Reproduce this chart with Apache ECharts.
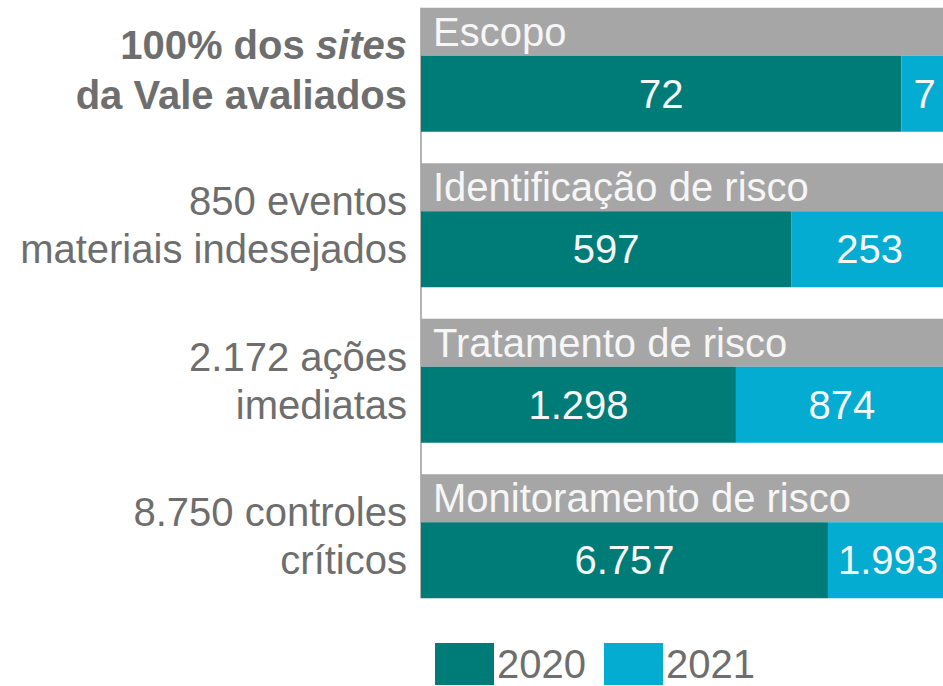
<!DOCTYPE html>
<html>
<head>
<meta charset="utf-8">
<script src="https://cdn.jsdelivr.net/npm/echarts@6/dist/echarts.min.js"></script>
<style>
  html, body { margin: 0; padding: 0; background: #fff; }
  #chart { width: 943px; height: 686px; }
</style>
</head>
<body>
<div id="chart"></div>
<script>
// data
var rowLabels = [
  '100% dos sites\nda Vale avaliados',
  '850 eventos\nmateriais indesejados',
  '2.172 ações\nimediatas',
  '8.750 controles\ncríticos'
];
var stages = ['Escopo', 'Identificação de risco', 'Tratamento de risco', 'Monitoramento de risco'];
var values2020 = [72, 597, 1298, 6757];
var values2021 = [7, 253, 874, 1993];
var seriesNames = ['2020', '2021'];

(function() {
  var teal = '#007c78';
  var cyan = '#03acd0';
  var gray = '#a6a6a6';
  var ink = '#6e6e6e';
  var font = "'Liberation Sans', Arial, sans-serif";

  var headerH = 48, barH = 76;

  var totals = values2020.map(function(v, i) { return v + values2021[i]; });
  var pct2020 = values2020.map(function(v, i) { return v / totals[i] * 100; });
  var pct2021 = values2021.map(function(v, i) { return v / totals[i] * 100; });
  var full = totals.map(function() { return 100; });

  function fmt(n) {
    return String(n).replace(/\B(?=(\d{3})+(?!\d))/g, '.');
  }

  var chart = echarts.init(document.getElementById('chart'), null, { renderer: 'svg' });
  chart.setOption({
    animation: false,
    textStyle: { fontFamily: font },
    legend: {
      left: 435,
      top: 643,
      padding: 0,
      itemWidth: 59,
      itemHeight: 42,
      itemGap: 18,
      icon: 'rect',
      data: seriesNames,
      textStyle: { color: ink, fontSize: 40, lineHeight: 42, fontFamily: font, padding: [0, 0, 0, -2] }
    },
    grid: { left: 421, right: -5, top: -8, bottom: 72, outerBoundsMode: 'none', containLabel: false },
    xAxis: {
      type: 'value',
      min: 0,
      max: 100,
      show: false
    },
    yAxis: {
      type: 'category',
      inverse: true,
      data: rowLabels,
      axisLine: { show: false },
      axisTick: { show: false },
      axisLabel: {
        margin: 14,
        color: ink,
        fontSize: 40,
        lineHeight: 48,
        fontFamily: font,
        align: 'right',
        formatter: function(value, index) {
          if (index !== 0) return value;
          return value.split('\n').map(function(line) {
            return '{b|' + line.replace('sites', '}{bi|sites}{b|') + '}';
          }).join('\n');
        },
        rich: {
          b: { fontWeight: 'bold', fontSize: 40, lineHeight: 50, color: ink, fontFamily: font },
          bi: { fontWeight: 'bold', fontStyle: 'italic', fontSize: 40, lineHeight: 50, color: ink, fontFamily: font }
        }
      }
    },
    series: [
      {
        name: 'header',
        type: 'bar',
        data: full,
        barWidth: headerH,
        barGap: '0%',
        itemStyle: { color: gray },
        label: {
          show: true,
          position: 'insideLeft',
          distance: 12,
          color: '#f6f6f6',
          fontSize: 40,
          fontFamily: font,
          formatter: function(p) { return stages[p.dataIndex]; }
        },
        silent: true
      },
      {
        name: seriesNames[0],
        type: 'bar',
        stack: 'total',
        data: pct2020,
        barWidth: barH,
        barGap: '0%',
        itemStyle: { color: teal },
        label: {
          show: true,
          position: 'inside',
          color: '#f6f6f6',
          fontSize: 40,
          fontFamily: font,
          formatter: function(p) { return fmt(values2020[p.dataIndex]); }
        }
      },
      {
        name: seriesNames[1],
        type: 'bar',
        stack: 'total',
        data: pct2021,
        barWidth: barH,
        barGap: '0%',
        itemStyle: { color: cyan },
        label: {
          show: true,
          position: 'inside',
          color: '#f6f6f6',
          fontSize: 40,
          fontFamily: font,
          formatter: function(p) { return fmt(values2021[p.dataIndex]); }
        }
      }
    ]
  });

  // thin axis rule spanning the bar groups
  var half = (headerH + barH) / 2;
  var x0 = chart.convertToPixel({ xAxisIndex: 0 }, 0);
  var yTop = chart.convertToPixel({ yAxisIndex: 0 }, 0) - half;
  var yBot = chart.convertToPixel({ yAxisIndex: 0 }, rowLabels.length - 1) + half;
  chart.setOption({
    graphic: [{
      type: 'line',
      z: -1,
      shape: { x1: x0, y1: yTop, x2: x0, y2: yBot },
      style: { stroke: '#9a9a9a', lineWidth: 1.5 }
    }]
  });
})();
</script>
</body>
</html>
